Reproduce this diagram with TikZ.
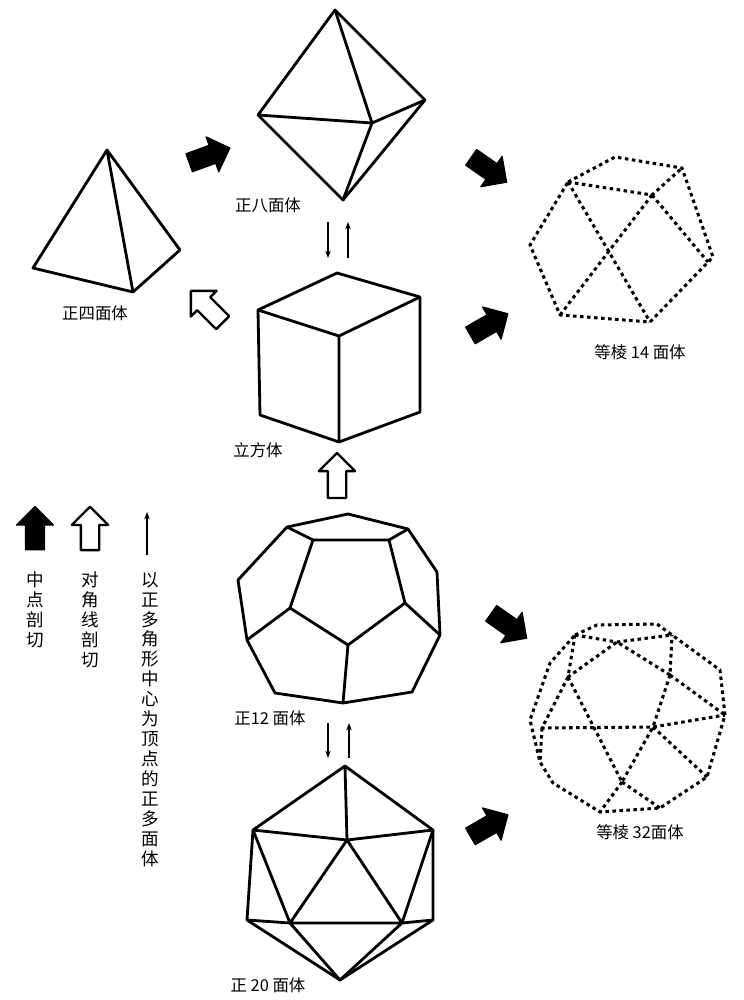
\documentclass[tikz,border=0pt]{standalone}
\usepackage{fontspec}
\setmainfont{Noto Sans CJK SC}
\usepackage{tikz}
\usetikzlibrary{positioning, shapes.arrows, arrows.meta}

\begin{document}
\begin{tikzpicture}[x=0.03cm, y=-0.03cm, line join=round,
    solid/.style={line width=2.4pt},
    dotline/.style={line width=2.6pt, dash pattern=on 3pt off 3pt},
    label/.style={font=\fontsize{14}{14}\selectfont},
    vtext/.style={font=\fontsize{15}{17}\selectfont, align=center, anchor=north},
    blackarrow/.style={single arrow, fill=black, draw=black, line width=1pt, minimum height=1.3cm, inner sep=0.27cm, single arrow head extend=0.27cm, single arrow tip angle=90},
    whitearrow/.style={single arrow, fill=white, draw=black, line width=2pt, minimum height=1.35cm, inner sep=0.24cm, single arrow head extend=0.27cm, single arrow tip angle=90},
    thin/.style={-{Stealth[length=2.2mm]}, line width=1pt}]

    \useasboundingbox (0,0) rectangle (743,1000);

    % Tetrahedron
    \coordinate (t1) at (107,150);
    \coordinate (t2) at (33,268);
    \coordinate (t3) at (133,292);
    \coordinate (t4) at (180,250);
    \draw[solid] (t1) -- (t2) -- (t3) -- (t4) -- cycle (t1) -- (t3);
    \node[label] (tetra) at (95,313) {正四面体};

    % Octahedron
    \coordinate (o1) at (335,10);
    \coordinate (o2) at (258,115);
    \coordinate (o3) at (425,100);
    \coordinate (o4) at (343,200);
    \coordinate (o5) at (372,123);
    \draw[solid] (o1) -- (o2) -- (o4) -- (o3) -- cycle;
    \draw[solid] (o1) -- (o5) -- (o4) (o2) -- (o5) -- (o3);
    \node[label] (octa) at (268,205) {正八面体};

    % Cube
    \coordinate (c1) at (258,310);
    \coordinate (c2) at (337,273);
    \coordinate (c3) at (420,297);
    \coordinate (c4) at (339,336);
    \coordinate (c5) at (260,415);
    \coordinate (c6) at (339,442);
    \coordinate (c7) at (420,412);
    \draw[solid] (c1) -- (c2) -- (c3) -- (c7) -- (c6) -- (c5) -- cycle;
    \draw[solid] (c1) -- (c4) -- (c3) (c4) -- (c6);
    \node[label] (cube) at (258,450) {立方体};

    % Dodecahedron
    \draw[solid] (348,514) -- (408,529) -- (437,572) -- (440,635) -- (412,692) -- (343,703)
        -- (275,693) -- (247,640) -- (238,580) -- (287,527) -- cycle;
    \draw[solid] (313,540) -- (389,540) -- (405,603) -- (348,645) -- (290,608) -- cycle;
    \draw[solid] (313,540) -- (287,527) (389,540) -- (408,529) (405,603) -- (440,635)
        (348,645) -- (343,703) (290,608) -- (247,640);
    \node[label] (dodeca) at (270,718) {正12 面体};

    % Icosahedron
    \coordinate (i1) at (345,766);
    \coordinate (i2) at (253,830);
    \coordinate (i3) at (347,840);
    \coordinate (i4) at (433,830);
    \coordinate (i5) at (247,920);
    \coordinate (i6) at (290,923);
    \coordinate (i7) at (402,923);
    \coordinate (i8) at (433,920);
    \coordinate (i9) at (340,980);
    \draw[solid] (i1) -- (i2) -- (i5) -- (i9) -- (i8) -- (i4) -- cycle;
    \draw[solid] (i1) -- (i3) (i2) -- (i3) -- (i4) (i2) -- (i6) -- (i3) -- (i7) -- (i4)
        (i5) -- (i6) -- (i7) -- (i8) (i6) -- (i9) -- (i7);
    \node[label] (icosa) at (268,985) {正 20 面体};

    % Cuboctahedron (dotted)
    \draw[dotline] (568,182) -- (615,157) -- (682,168) -- (713,257) -- (650,322) -- (560,315) -- (530,245) -- cycle;
    \draw[dotline] (568,182) -- (652,195) -- (682,168) (652,195) -- (708,262)
        (652,195) -- (560,315) (568,182) -- (650,322);
    \node[label] (cubocta) at (640,352) {等棱 14 面体};

    % Icosidodecahedron (dotted)
    \draw[dotline] (575,635) -- (597,625) -- (657,624) -- (672,635) -- (720,670) -- (725,715)
        -- (707,777) -- (660,808) -- (600,812) -- (553,783) -- (540,762) -- (530,720) -- (550,663) -- cycle;
    \draw[dotline] (575,635) -- (617,642) -- (672,635) (575,635) -- (568,677) -- (617,642) -- (670,675) -- (672,635)
        (568,677) -- (542,728) -- (653,727) -- (725,715) (670,675) -- (653,727) (670,675) -- (725,715)
        (568,677) -- (622,782) -- (653,727) (542,728) -- (540,762) (622,782) -- (600,812)
        (622,782) -- (660,808) (653,727) -- (707,777);
    \node[label] (icosido) at (640,832) {等棱 32面体};

    % Block arrows
    \node[blackarrow, rotate=20] (a1) at (205,157) {};
    \node[blackarrow, rotate=-35] (a2) at (485,167) {};
    \node[blackarrow, rotate=30] (a3) at (485,327) {};
    \node[blackarrow, rotate=-35] (a4) at (505,623) {};
    \node[blackarrow, rotate=30] (a5) at (485,828) {};
    \node[whitearrow, rotate=135] (w1) at (210,310) {};
    \node[whitearrow, rotate=90] (w2) at (337,480) {};

    % Thin arrows
    \coordinate (d1) at (328,222);
    \coordinate (d2) at (328,258);
    \coordinate (u1) at (348,258);
    \coordinate (u2) at (348,222);
    \draw[thin] (d1) -- (d2);
    \draw[thin] (u1) -- (u2);
    \coordinate (d3) at (328,723);
    \coordinate (d4) at (328,758);
    \coordinate (u3) at (349,758);
    \coordinate (u4) at (349,723);
    \draw[thin] (d3) -- (d4);
    \draw[thin] (u3) -- (u4);

    % Legend
    \node[blackarrow, rotate=90] (k1) at (35,533) {};
    \node[whitearrow, rotate=90, minimum height=1.3cm] (k2) at (90,533) {};
    \coordinate (k3a) at (147,555);
    \coordinate (k3b) at (147,512);
    \draw[thin] (k3a) -- (k3b);
    \node[vtext] (t-mid) at (35,568) {中\\点\\剖\\切};
    \node[vtext] (t-diag) at (90,568) {对\\角\\线\\剖\\切};
    \node[vtext] (t-cent) at (150,568) {以\\正\\多\\角\\形\\中\\心\\为\\顶\\点\\的\\正\\多\\面\\体};
\end{tikzpicture}
\end{document}
